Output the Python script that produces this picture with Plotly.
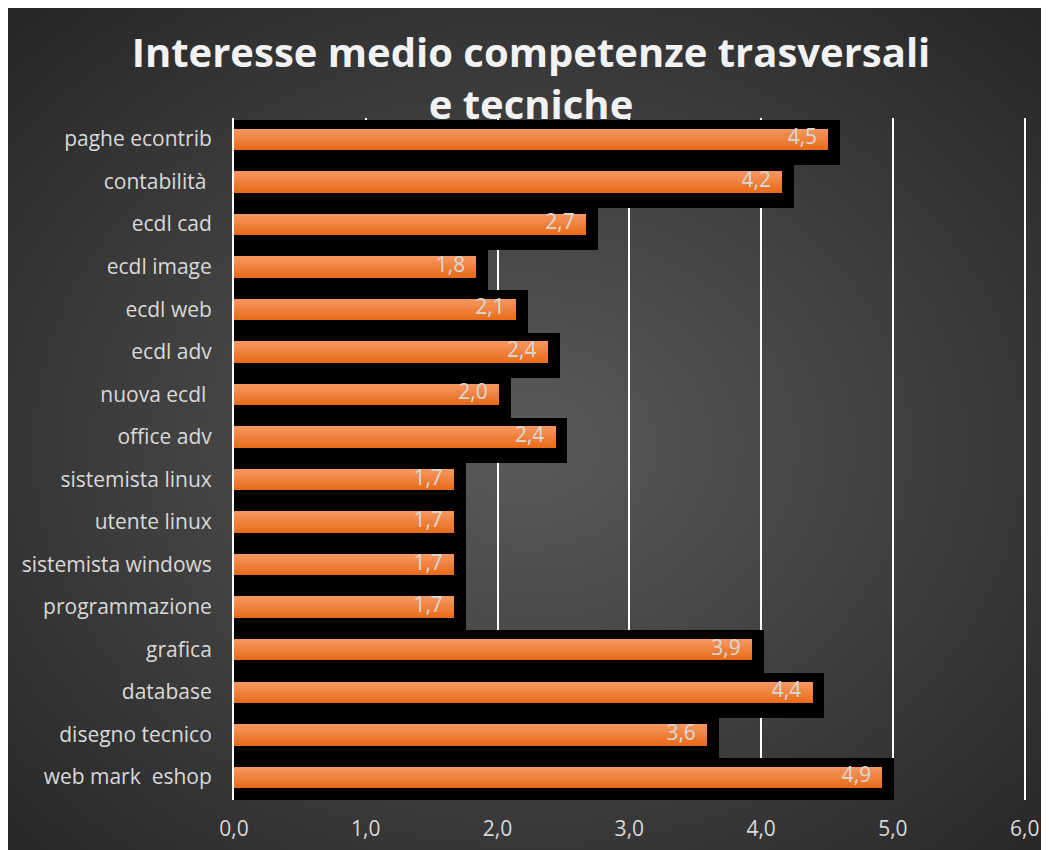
import base64
import plotly.graph_objects as go

# ---- data (top to bottom as shown) ----
categories = [
    "paghe econtrib", "contabilità ", "ecdl cad", "ecdl image", "ecdl web",
    "ecdl adv", "nuova ecdl ", "office adv", "sistemista linux", "utente linux",
    "sistemista windows", "programmazione", "grafica", "database",
    "disegno tecnico", "web mark  eshop",
]
values = [4.51, 4.16, 2.67, 1.84, 2.14, 2.38, 2.01, 2.44, 1.67, 1.67,
          1.67, 1.67, 3.93, 4.39, 3.59, 4.92]
labels = ["4,5", "4,2", "2,7", "1,8", "2,1", "2,4", "2,0", "2,4", "1,7", "1,7",
          "1,7", "1,7", "3,9", "4,4", "3,6", "4,9"]
x_ticks = [0, 1, 2, 3, 4, 5, 6]

n = len(categories)
pos = [n - 1 - i for i in range(n)]

TXT = "#d9d9d9"
FONT = "Open Sans"

fig = go.Figure()

# black shadow bands
fig.add_trace(go.Bar(
    orientation="h", y=[p - 0.082 for p in pos], x=[v + 0.09 for v in values],
    width=1.058, marker=dict(color="#000000", line=dict(width=0)),
    hoverinfo="skip", showlegend=False,
))

# orange bars with vertical gradient (strips, bottom first)
c_bot = (0xEA, 0x6C, 0x1B)
c_top = (0xF4, 0x96, 0x5E)
k = 10
strip_cols = []
for j in range(k):
    t = j / (k - 1)
    rgb = [round(a + (b - a) * t) for a, b in zip(c_bot, c_top)]
    strip_cols.append("rgb(%d,%d,%d)" % tuple(rgb))
total = 0.49
sw = total / k
for j, col in enumerate(strip_cols):
    off = -total / 2 + sw * (j + 0.5)
    w = sw * 1.6 if j < k - 1 else sw
    fig.add_trace(go.Bar(
        orientation="h", y=[p + off for p in pos], x=values,
        width=w, marker=dict(color=col, line=dict(width=0)),
        hoverinfo="skip", showlegend=False,
    ))

# data labels
fig.add_trace(go.Scatter(
    x=[v - 0.085 for v in values], y=pos, mode="text", text=labels,
    textposition="middle left",
    textfont=dict(family=FONT, size=21, color=TXT),
    hoverinfo="skip", showlegend=False,
))

# figure sits at (8, 8) in the page
W, H = 1041, 842
L, R, T, B = 226, 23, 110, 50
pw, ph = W - L - R, H - T - B

svg = (
    '<svg xmlns="http://www.w3.org/2000/svg" width="%d" height="%d" '
    'preserveAspectRatio="none">'
    '<defs><radialGradient id="g" cx="50%%" cy="52%%" r="72%%">'
    '<stop offset="0%%" stop-color="#5a5a5a"/>'
    '<stop offset="100%%" stop-color="#252525"/>'
    '</radialGradient></defs>'
    '<rect width="%d" height="%d" fill="url(#g)"/></svg>'
) % (W, H, W, H)
src = "data:image/svg+xml;base64," + base64.b64encode(svg.encode()).decode()

fig.add_layout_image(dict(
    source=src, xref="paper", yref="paper",
    x=-L / pw, y=(H - B) / ph,
    sizex=W / pw, sizey=H / ph,
    xanchor="left", yanchor="top", sizing="stretch", layer="below",
))

fig.update_layout(
    width=W, height=H,
    margin=dict(l=L, r=R, t=T, b=B, autoexpand=False),
    paper_bgcolor="#ffffff", plot_bgcolor="rgba(0,0,0,0)",
    barmode="overlay", bargap=0,
    separators=",.",
    title=dict(
        text="Interesse medio competenze trasversali<br>e tecniche",
        x=(531 - 8) / W, xanchor="center", xref="container",
        y=1 - 59 / H, yanchor="top", yref="container",
        font=dict(family=FONT, size=40, color="#f2f2f2", weight="bold"),
        automargin=False,
    ),
    xaxis=dict(
        range=[0, 6.01], tickvals=x_ticks, tickformat=".1f",
        showgrid=True, gridcolor="#ffffff", gridwidth=2,
        zeroline=False, showline=False, automargin=False,
        tickfont=dict(family=FONT, size=21, color=TXT),
        ticks="", ticklabelstandoff=14,
    ),
    yaxis=dict(
        range=[-0.54, n - 1 + 0.494], tickvals=pos, ticktext=categories,
        showgrid=False, zeroline=False, automargin=False,
        showline=True, linecolor="#ffffff", linewidth=2,
        tickfont=dict(family=FONT, size=21, color=TXT),
        ticks="", ticklabelstandoff=16,
    ),
)

fig.write_html("out.html")
